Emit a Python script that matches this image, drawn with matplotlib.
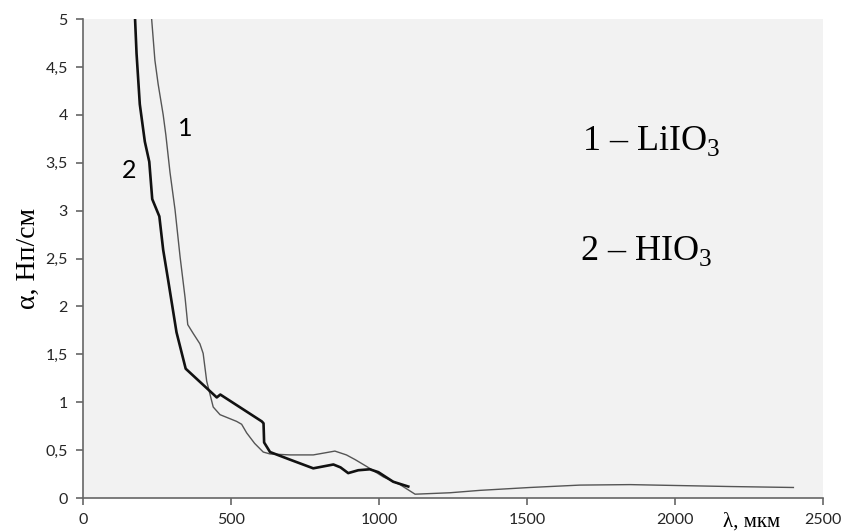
import matplotlib
matplotlib.use('Agg')
import matplotlib.pyplot as plt

# curve 1 - LiIO3 (thin grey line)
lam_1 = [232, 243, 254, 271, 280, 294, 311, 328, 345, 354, 372, 395, 406, 418,
         440, 463, 519, 536, 553, 580, 609, 632, 700, 778, 815, 851, 890, 920,
         958, 1015, 1071, 1122, 1240, 1341, 1510, 1679, 1848, 2017, 2186, 2400]
alpha_1 = [5.0, 4.57, 4.32, 4.0, 3.79, 3.40, 3.01, 2.52, 2.09, 1.81, 1.72, 1.61, 1.51, 1.22,
           0.95, 0.87, 0.80, 0.77, 0.68, 0.57, 0.48, 0.46, 0.45, 0.45, 0.47, 0.49, 0.45, 0.40,
           0.33, 0.22, 0.14, 0.04, 0.055, 0.08, 0.11, 0.135, 0.14, 0.13, 0.12, 0.11]

# curve 2 - HIO3 (thick black line)
lam_2 = [176, 181, 192, 209, 224, 234, 258, 271, 288, 316, 347, 452, 464, 604,
         610, 612, 632, 700, 778, 846, 870, 896, 930, 969, 998, 1048, 1099]
alpha_2 = [5.0, 4.64, 4.11, 3.72, 3.51, 3.12, 2.94, 2.59, 2.27, 1.73, 1.35, 1.05, 1.08, 0.80,
           0.78, 0.58, 0.48, 0.40, 0.31, 0.35, 0.32, 0.26, 0.29, 0.30, 0.27, 0.17, 0.12]

x_ticks = [0, 500, 1000, 1500, 2000, 2500]
y_ticks = [0, 0.5, 1, 1.5, 2, 2.5, 3, 3.5, 4, 4.5, 5]
y_tick_labels = ['0', '0,5', '1', '1,5', '2', '2,5', '3', '3,5', '4', '4,5', '5']

plt.rcParams['mathtext.fontset'] = 'custom'
plt.rcParams['mathtext.rm'] = 'Liberation Serif'

fig = plt.figure(figsize=(8.44, 5.31), dpi=100)
ax = fig.add_axes([0.0983, 0.0621, 0.8768, 0.9021])
ax.set_facecolor('#f2f2f2')

ax.plot(lam_1, alpha_1, color='#555555', linewidth=1.0)
ax.plot(lam_2, alpha_2, color='#111111', linewidth=1.9)

ax.set_xlim(0, 2500)
ax.set_ylim(0, 5)
ax.set_xticks(x_ticks)
ax.set_xticklabels([str(t) for t in x_ticks])
ax.set_yticks(y_ticks)
ax.set_yticklabels(y_tick_labels)

for side in ['top', 'right']:
    ax.spines[side].set_visible(False)
for side in ['left', 'bottom']:
    ax.spines[side].set_color('#666666')
    ax.spines[side].set_linewidth(1.2)

ax.tick_params(direction='out', length=5, width=1.2, color='#666666',
               labelsize=11.5, labelcolor='#262626', pad=6)
for lbl in ax.get_xticklabels() + ax.get_yticklabels():
    lbl.set_family('Lato')

# axis titles
ax.set_ylabel('α, Нп/см', family='Liberation Serif', fontsize=20, labelpad=3)
ax.text(2260, -0.25, 'λ, мкм', family='Liberation Serif', fontsize=15,
        ha='center', va='center', clip_on=False)

# curve numbers
ax.text(345, 3.86, '1', family='Lato', fontsize=18, ha='center', va='center')
ax.text(157, 3.42, '2', family='Lato', fontsize=18, ha='center', va='center')

# legend text
ax.text(1685, 3.63, r'1 – LiIO$_\mathrm{3}$', family='Liberation Serif', fontsize=26,
        ha='left', va='baseline')
ax.text(1679, 2.48, r'2 – HIO$_\mathrm{3}$', family='Liberation Serif', fontsize=26,
        ha='left', va='baseline')

plt.savefig('out.png', dpi=100)
plt.close()
